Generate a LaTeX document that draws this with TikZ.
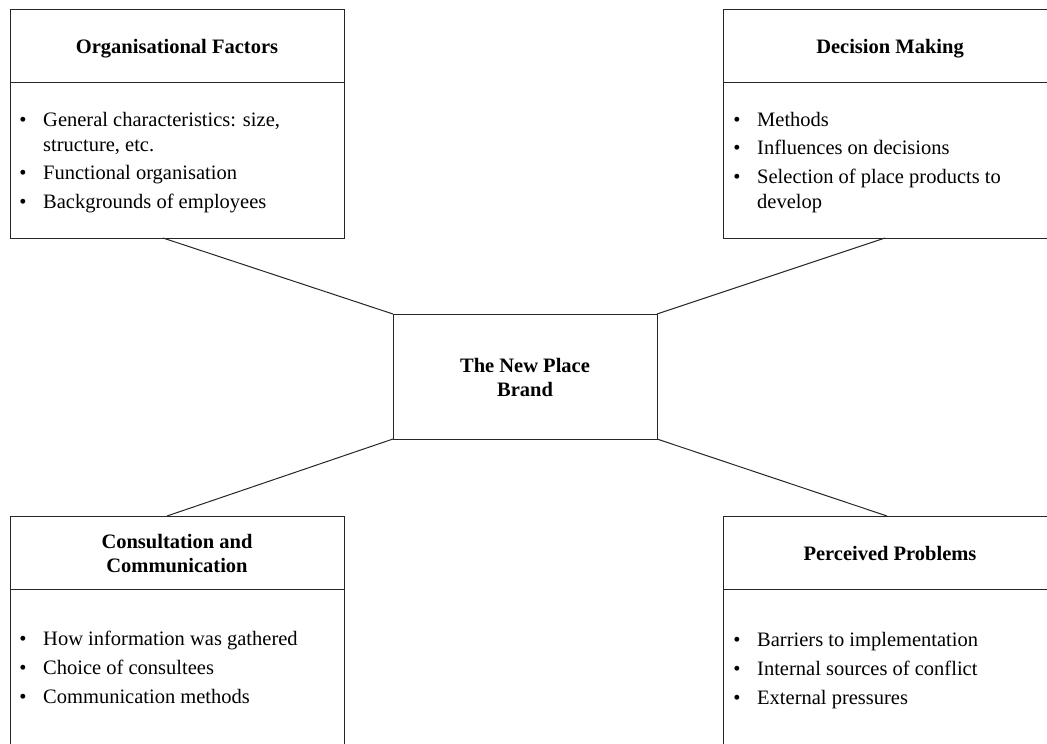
\documentclass[tikz,border=0pt]{standalone}
\usepackage{fontspec}
\setmainfont{Liberation Serif}
\begin{document}
\begin{tikzpicture}[x=1pt,y=-1pt,
  box/.style={draw=black!85, line width=1pt, rectangle, anchor=north west, inner sep=0pt, outer sep=0pt},
  divider/.style={draw=black!85, line width=1pt},
  head/.style={font=\fontsize{20.5}{24}\selectfont\bfseries, anchor=base, inner sep=0pt},
  itemtext/.style={font=\fontsize{20.5}{25}\selectfont, anchor=base west, inner sep=0pt},
  bul/.style={font=\fontsize{20.5}{25}\selectfont, anchor=base, inner sep=0pt},
  link/.style={draw=black!85, line width=1pt}]
\useasboundingbox (0,0) rectangle (1047,744);
\clip (0,0) rectangle (1047,744);
\fill[white] (0,0) rectangle (1047,744);

% boxes
\node[box, minimum width=334pt, minimum height=229pt] (of) at (10,9) {};
\node[box, minimum width=334pt, minimum height=229pt] (dm) at (723,9) {};
\node[box, minimum width=334pt, minimum height=260pt] (cc) at (10,516) {};
\node[box, minimum width=334pt, minimum height=260pt] (pp) at (723,516) {};
\node[box, minimum width=264pt, minimum height=125pt] (ctr) at (393,314) {};

% dividers
\coordinate (ofdl) at (10,82);   \coordinate (ofdr) at (344,82);
\coordinate (dmdl) at (723,82);  \coordinate (dmdr) at (1057,82);
\coordinate (ccdl) at (10,589);  \coordinate (ccdr) at (344,589);
\coordinate (ppdl) at (723,589); \coordinate (ppdr) at (1057,589);
\draw[divider] (ofdl) -- (ofdr);
\draw[divider] (dmdl) -- (dmdr);
\draw[divider] (ccdl) -- (ccdr);
\draw[divider] (ppdl) -- (ppdr);

% connectors
\coordinate (ofc) at (163,238);
\coordinate (dmc) at (885,238);
\coordinate (ccc) at (167,516);
\coordinate (ppc) at (887,516);
\draw[link] (ofc) -- (ctr.north west);
\draw[link] (dmc) -- (ctr.north east);
\draw[link] (ccc) -- (ctr.south west);
\draw[link] (ppc) -- (ctr.south east);

% headings
\node[head] (ofh) at (177,53) {Organisational Factors};
\node[head] (dmh) at (890,53) {Decision Making};
\node[head] (cch1) at (177,548) {Consultation and};
\node[head] (cch2) at (177,572) {Communication};
\node[head] (pph) at (890,560) {Perceived Problems};
\node[head] (ctr1) at (525,372) {The New Place};
\node[head] (ctr2) at (525,396) {Brand};

% Organisational Factors items
\node[bul] (ofb1) at (23,126) {\textbullet};
\node[itemtext] (ofi1) at (43,126) {General characteristics: size,};
\node[itemtext] (ofi1b) at (43,151) {structure, etc.};
\node[bul] (ofb2) at (23,179.5) {\textbullet};
\node[itemtext] (ofi2) at (43,179.5) {Functional organisation};
\node[bul] (ofb3) at (23,208) {\textbullet};
\node[itemtext] (ofi3) at (43,208) {Backgrounds of employees};

% Decision Making items
\node[bul] (dmb1) at (737,126) {\textbullet};
\node[itemtext] (dmi1) at (757,126) {Methods};
\node[bul] (dmb2) at (737,154.5) {\textbullet};
\node[itemtext] (dmi2) at (757,154.5) {Influences on decisions};
\node[bul] (dmb3) at (737,183) {\textbullet};
\node[itemtext] (dmi3) at (757,183) {Selection of place products to};
\node[itemtext] (dmi3b) at (757,208) {develop};

% Consultation items
\node[bul] (ccb1) at (23,645) {\textbullet};
\node[itemtext] (cci1) at (43,645) {How information was gathered};
\node[bul] (ccb2) at (23,674) {\textbullet};
\node[itemtext] (cci2) at (43,674) {Choice of consultees};
\node[bul] (ccb3) at (23,703) {\textbullet};
\node[itemtext] (cci3) at (43,703) {Communication methods};

% Perceived Problems items
\node[bul] (ppb1) at (737,646) {\textbullet};
\node[itemtext] (ppi1) at (757,646) {Barriers to implementation};
\node[bul] (ppb2) at (737,675) {\textbullet};
\node[itemtext] (ppi2) at (757,675) {Internal sources of conflict};
\node[bul] (ppb3) at (737,704) {\textbullet};
\node[itemtext] (ppi3) at (757,704) {External pressures};
\end{tikzpicture}
\end{document}
